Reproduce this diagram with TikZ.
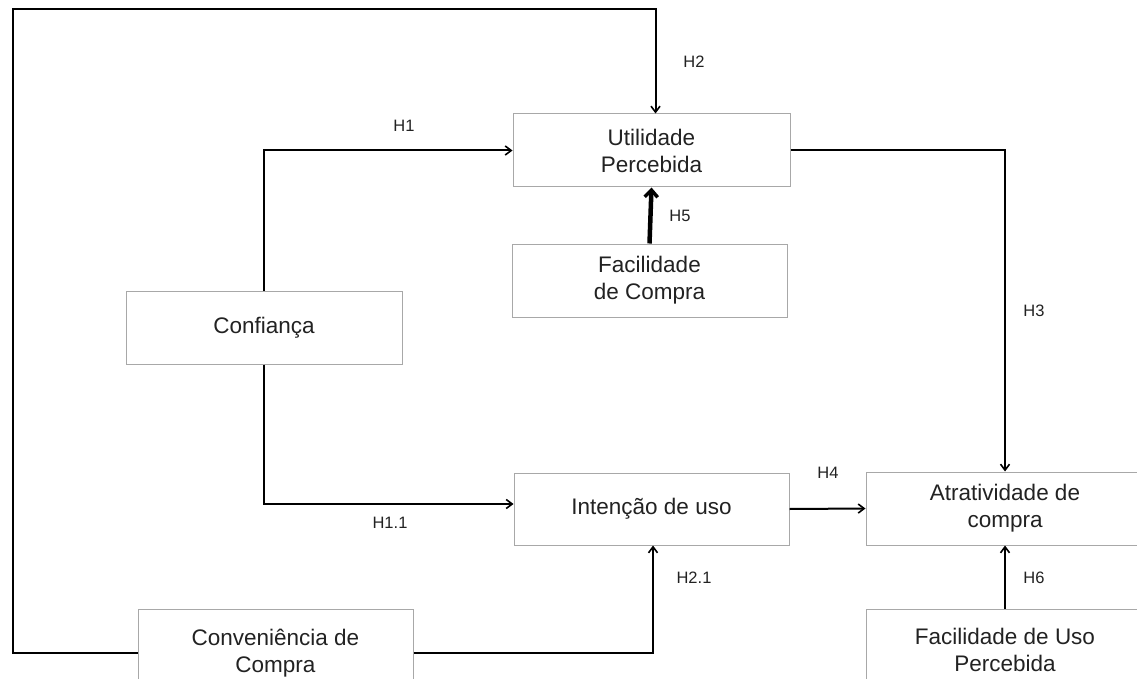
\documentclass[tikz,border=0pt]{standalone}
\usepackage{fontspec}
\setmainfont{Liberation Sans}
\usetikzlibrary{arrows.meta}
\definecolor{boxgray}{HTML}{A8A8A8}
\definecolor{txt}{HTML}{222222}
\begin{document}
\begin{tikzpicture}[x=1pt,y=-1pt,
  box/.style={draw=boxgray,line width=1pt,fill=white,align=center,text=txt,
    font=\fontsize{22.5}{27}\selectfont,inner sep=0pt},
  conn/.style={line width=2pt,black,-{Straight Barb[length=6pt,width=9pt,line width=1.6pt]}},
  hlab/.style={font=\fontsize{16.5}{19}\selectfont,text=txt}]
\useasboundingbox (0,0) rectangle (1137,679);
\clip (0,0) rectangle (1137,679);
\node[box,minimum width=277pt,minimum height=73pt] (util) at (651.5,150.5) {Utilidade\\Percebida};
\node[box,minimum width=275pt,minimum height=73pt] (fc) at (649.5,280.5) {Facilidade\\de Compra};
\node[box,minimum width=276pt,minimum height=73pt] (conf) at (264,327.5) {Confiança};
\node[box,minimum width=275pt,minimum height=72pt] (int) at (651.5,509) {Intenção de uso};
\node[box,minimum width=278pt,minimum height=73pt] (atr) at (1005,508.5) {Atratividade de\\compra};
\node[box,minimum width=275pt,minimum height=88pt] (conv) at (275.5,653) {Conveniência de\\Compra};
\node[box,minimum width=278pt,minimum height=82pt] (fu) at (1005,650) {Facilidade de Uso\\Percebida};
\coordinate (tl) at (13,9);
\draw[conn] (conf.north) |- (util.west);
\draw[conn] (conf.south) |- ([yshift=5pt]int.west);
\draw[conn] (conv.west) -| (tl) -| ([xshift=4pt]util.north);
\draw[conn] (conv.east) -| ([xshift=1.5pt]int.south);
\draw[conn] (util.east) -| (atr.north);
\draw[conn] (int.east) -- (atr.west);
\draw[line width=4.5pt,-{Straight Barb[length=7pt,width=13pt,line width=3.5pt]}] (fc.north) -- (util.south);
\draw[conn] (fu.north) -- (atr.south);
\node[hlab] (h1) at (404,126) {H1};
\node[hlab] (h2) at (694,62) {H2};
\node[hlab] (h5) at (680,216) {H5};
\node[hlab] (h3) at (1034,311) {H3};
\node[hlab] (h4) at (828,473) {H4};
\node[hlab] (h11) at (390,523) {H1.1};
\node[hlab] (h21) at (694,578) {H2.1};
\node[hlab] (h6) at (1034,578) {H6};
\end{tikzpicture}
\end{document}
